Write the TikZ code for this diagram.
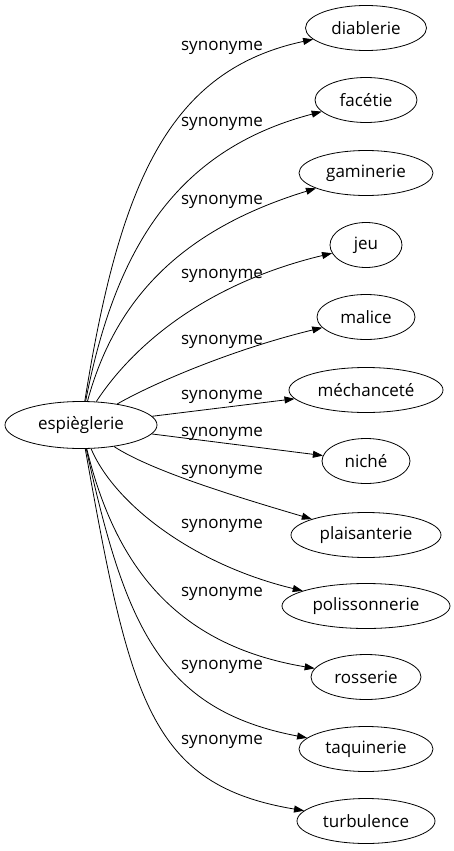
\documentclass[tikz,border=0pt]{standalone}
\usepackage{fontspec}
\setmainfont{Open Sans}
\usetikzlibrary{shapes.geometric,arrows.meta}

\begin{document}
\begin{tikzpicture}[x=1pt,y=-1pt,
    word/.style={ellipse,draw,line width=0.8pt,inner sep=0pt,minimum height=45pt,font=\fontsize{17}{20}\selectfont},
    rel/.style={anchor=base,inner sep=0pt,font=\fontsize{17}{20}\selectfont},
    syn/.style={line width=0.8pt,-{Triangle[length=10pt,width=7pt]}}]
  \useasboundingbox (0,0) rectangle (453,851);
  \node[word,minimum width=152pt,minimum height=47pt] at (81,425) (esp) {espièglerie};
  \node[word,minimum width=121pt] at (366,28) (diab) {diablerie};
  \node[word,minimum width=102pt] at (366,100) (fac) {facétie};
  \node[word,minimum width=134pt] at (366,173) (gam) {gaminerie};
  \node[word,minimum width=72pt] at (366,245) (jeu) {jeu};
  \node[word,minimum width=98pt] at (366,317) (mal) {malice};
  \node[word,minimum width=154pt] at (366,390) (mech) {méchanceté};
  \node[word,minimum width=88pt] at (366,461) (nich) {niché};
  \node[word,minimum width=150pt] at (366,535) (plai) {plaisanterie};
  \node[word,minimum width=168pt] at (366,606) (poli) {polissonnerie};
  \node[word,minimum width=110pt] at (366,677) (ross) {rosserie};
  \node[word,minimum width=134pt] at (366,749) (taq) {taquinerie};
  \node[word,minimum width=138pt] at (366,821) (turb) {turbulence};
  \node[rel] at (222,51) (s1) {synonyme};
  \node[rel] at (222,126) (s2) {synonyme};
  \node[rel] at (222,204) (s3) {synonyme};
  \node[rel] at (222,278) (s4) {synonyme};
  \node[rel] at (222,344) (s5) {synonyme};
  \node[rel] at (222,399) (s6) {synonyme};
  \node[rel] at (222,436) (s7) {synonyme};
  \node[rel] at (222,474) (s8) {synonyme};
  \node[rel] at (222,528) (s9) {synonyme};
  \node[rel] at (222,596) (s10) {synonyme};
  \node[rel] at (222,669) (s11) {synonyme};
  \node[rel] at (222,744) (s12) {synonyme};
  \draw[syn] (esp) .. controls (120,180) and (170,70) .. (diab);
  \draw[syn] (esp) .. controls (115,250) and (175,150) .. (fac);
  \draw[syn] (esp) .. controls (115,300) and (180,230) .. (gam);
  \draw[syn] (esp) .. controls (130,350) and (200,285) .. (jeu);
  \draw[syn] (esp) .. controls (150,385) and (230,350) .. (mal);
  \draw[syn] (esp) -- (mech);
  \draw[syn] (esp) -- (nich);
  \draw[syn] (esp) .. controls (150,470) and (230,495) .. (plai);
  \draw[syn] (esp) .. controls (115,505) and (195,565) .. (poli);
  \draw[syn] (esp) .. controls (115,565) and (175,645) .. (ross);
  \draw[syn] (esp) .. controls (125,625) and (160,710) .. (taq);
  \draw[syn] (esp) .. controls (130,700) and (150,785) .. (turb);
\end{tikzpicture}
\end{document}
